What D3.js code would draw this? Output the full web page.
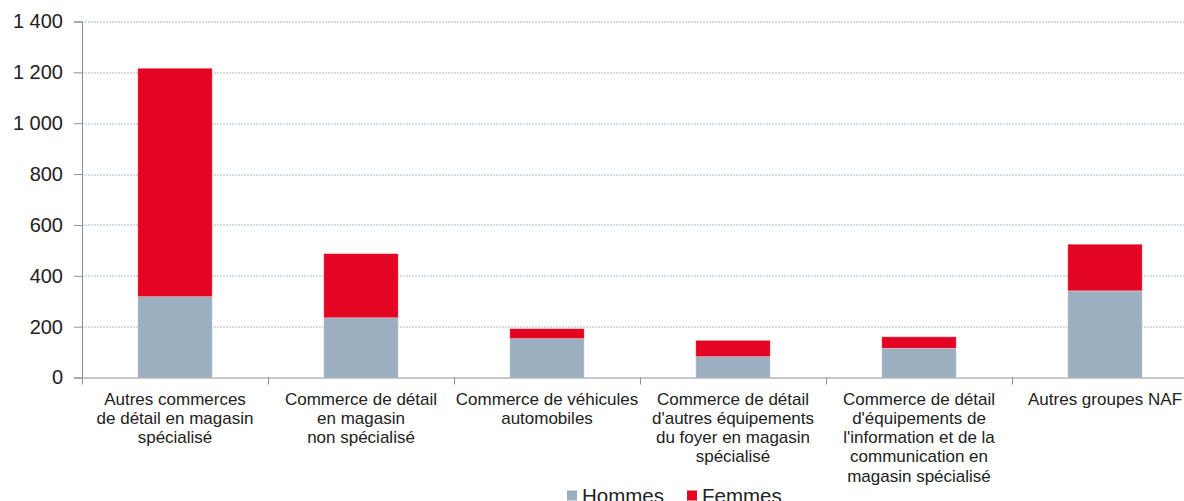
<!DOCTYPE html>
<html>
<head>
<meta charset="utf-8">
<script src="https://cdn.jsdelivr.net/npm/d3@7"></script>
<style>
  body { margin: 0; background: #fff; }
  svg { display: block; font-family: "Liberation Sans", Arial, Helvetica, sans-serif; }
</style>
</head>
<body>
<svg width="1184" height="501"></svg>
<script>
// categories (multi-line labels)
const categories = [
    ["Autres commerces", "de détail en magasin", "spécialisé"],
    ["Commerce de détail", "en magasin", "non spécialisé"],
    ["Commerce de véhicules", "automobiles"],
    ["Commerce de détail", "d'autres équipements", "du foyer en magasin", "spécialisé"],
    ["Commerce de détail", "d'équipements de", "l'information et de la", "communication en", "magasin spécialisé"],
    ["Autres groupes NAF"]
];
const hommes = [318, 235, 153, 82, 115, 341];
const femmes = [898, 252, 39, 64, 45, 183];
const seriesNames = ["Hommes", "Femmes"];
const yTicks = [0, 200, 400, 600, 800, 1000, 1200, 1400];

const colors = { Hommes: "#9cafc0", Femmes: "#e30521" };

const margin = { left: 82, top: 21.5 };
const plotW = 1116, plotH = 356;

const svg = d3.select("svg");
const g = svg.append("g").attr("transform", `translate(${margin.left},${margin.top})`);

const x = d3.scaleBand().domain(d3.range(categories.length)).range([0, plotW]).paddingInner(0.6).paddingOuter(0.3);
const xb = d3.scaleBand().domain(d3.range(categories.length)).range([0, plotW]);
const y = d3.scaleLinear().domain([0, 1400]).range([plotH, 0]);

const fmt = v => d3.format(",")(v).replace(/,/g, " ");

// grid
g.append("g").selectAll("line").data(yTicks.filter(d => d > 0)).join("line")
    .attr("x1", 0).attr("x2", plotW)
    .attr("y1", d => Math.round(y(d)) + 0.5).attr("y2", d => Math.round(y(d)) + 0.5)
    .attr("stroke", "#a9bccb").attr("stroke-width", 1).attr("stroke-dasharray", "2,1");

// stacked bars
const rows = categories.map((c, i) => ({ i, Hommes: hommes[i], Femmes: femmes[i] }));
const stack = d3.stack().keys(seriesNames)(rows);

g.append("g").selectAll("g").data(stack).join("g")
    .attr("fill", d => colors[d.key])
    .selectAll("rect").data(d => d).join("rect")
    .attr("x", d => x(d.data.i))
    .attr("width", x.bandwidth())
    .attr("y", d => y(d[1]))
    .attr("height", d => y(d[0]) - y(d[1]))
    .attr("stroke", "#ffffff").attr("stroke-opacity", 0.35).attr("stroke-width", 0.8);

// y axis
const yAxis = g.append("g")
    .call(d3.axisLeft(y).tickValues(yTicks).tickFormat(fmt).tickSize(8).tickPadding(11));
yAxis.select(".domain").attr("stroke", "#8f8f8f");
yAxis.selectAll(".tick line").attr("stroke", "#8f8f8f");
yAxis.selectAll("text").attr("font-size", 20).attr("fill", "#222")
    .attr("font-family", "'Liberation Sans', Arial, sans-serif");

// x axis
const xAxis = g.append("g").attr("transform", `translate(0,${plotH})`);
xAxis.append("line").attr("x1", 0).attr("x2", plotW).attr("y1", 0.5).attr("y2", 0.5).attr("stroke", "#8f8f8f");
xAxis.selectAll(".sep").data(d3.range(categories.length + 1)).join("line")
    .attr("class", "sep")
    .attr("x1", d => Math.round(d * xb.step()) + 0.5).attr("x2", d => Math.round(d * xb.step()) + 0.5)
    .attr("y1", 0).attr("y2", 7).attr("stroke", "#8f8f8f");

const labels = xAxis.selectAll(".lab").data(categories).join("text")
    .attr("class", "lab")
    .attr("text-anchor", "middle")
    .attr("font-size", 17).attr("fill", "#222")
    .attr("transform", (d, i) => `translate(${xb(i) + xb.bandwidth() / 2},27)`);
labels.selectAll("tspan").data(d => d).join("tspan")
    .attr("x", 0).attr("dy", (d, j) => j === 0 ? 0 : 19.3)
    .text(d => d);

// legend
const legend = svg.append("g").attr("transform", "translate(567,503)");
const items = [{ name: "Hommes", x: 0 }, { name: "Femmes", x: 120 }];
const li = legend.selectAll("g").data(items).join("g").attr("transform", d => `translate(${d.x},0)`);
li.append("rect").attr("x", 0).attr("y", -12.5).attr("width", 10).attr("height", 10).attr("fill", d => colors[d.name]);
li.append("text").attr("x", 15).attr("y", 0).attr("font-size", 20.5).attr("fill", "#222").text(d => d.name);
</script>
</body>
</html>
